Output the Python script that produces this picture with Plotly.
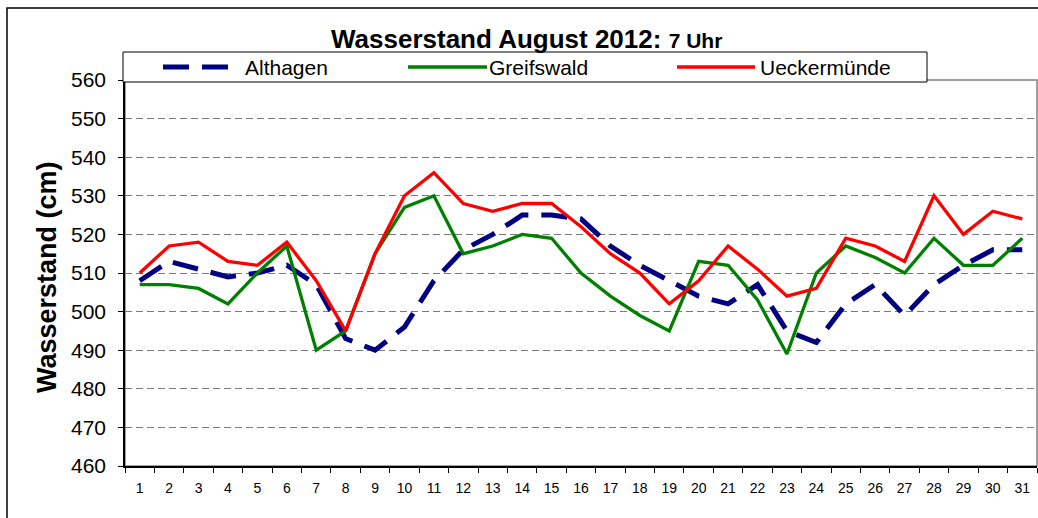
import plotly.graph_objects as go

days = [str(d) for d in range(1, 32)]
althagen = [508, 513, 511, 509, 510, 512, 507, 493, 490, 496, 508, 516, 520, 525, 525,
            524, 517, 512, 508, 504, 502, 507, 495, 492, 502, 507, 499, 507, 512, 516, 516]
greifswald = [507, 507, 506, 502, 510, 517, 490, 495, 515, 527, 530, 515, 517, 520, 519,
              510, 504, 499, 495, 513, 512, 503, 489, 510, 517, 514, 510, 519, 512, 512, 519]
ueckermuende = [510, 517, 518, 513, 512, 518, 508, 495, 515, 530, 536, 528, 526, 528, 528,
                522, 515, 510, 502, 508, 517, 511, 504, 506, 519, 517, 513, 530, 520, 526, 524]
y_ticks = list(range(460, 561, 10))
series_names = ["Althagen", "Greifswald", "Ueckermünde"]
title_main = "Wasserstand August 2012: "
title_sub = "7 Uhr"
y_title = "Wasserstand (cm)"

FONT = "Arial, 'Liberation Sans', sans-serif"
W, H = 1038, 518
L, R, T, B = 125, 1, 80, 52
PW, PH = W - L - R, H - T - B

def px(x):
    return (x - L) / PW

def py(y):
    return (H - B - y) / PH

styles = [
    dict(color="#000080", width=5, dash="26px,13px"),
    dict(color="#008000", width=3.3, dash="solid"),
    dict(color="#FF0000", width=3.3, dash="solid"),
]

fig = go.Figure()
for name, vals, st in zip(series_names, [althagen, greifswald, ueckermuende], styles):
    fig.add_trace(go.Scatter(x=days, y=vals, mode="lines", name=name, line=st,
                             showlegend=False))

shapes = [
    # outer chart frame
    dict(type="rect", xref="paper", yref="paper", x0=px(7), x1=px(1045), y0=py(530), y1=py(8),
         line=dict(color="black", width=1.5), fillcolor="rgba(0,0,0,0)", layer="below"),
    # plot area border (gray)
    dict(type="rect", xref="paper", yref="paper", x0=0, x1=1, y0=0, y1=1,
         line=dict(color="#808080", width=1.5), fillcolor="rgba(0,0,0,0)", layer="below"),
    # legend box
    dict(type="rect", xref="paper", yref="paper", x0=px(123), x1=px(927), y0=py(82), y1=py(52),
         line=dict(color="black", width=1), fillcolor="white", layer="above"),
]
annotations = []
leg_items = [(163, 235, 245), (408, 487, 489), (677, 755, 760)]
for (x0, x1, tx), name, st in zip(leg_items, series_names, styles):
    shapes.append(dict(type="line", xref="paper", yref="paper", x0=px(x0), x1=px(x1),
                       y0=py(67), y1=py(67), line=st, layer="above"))
    annotations.append(dict(text=name, xref="paper", yref="paper", x=px(tx - 2), y=py(67),
                            xanchor="left", yanchor="middle", showarrow=False,
                            font=dict(family=FONT, size=21, color="black")))

annotations.append(dict(
    text="<b>" + title_main + "</b><b><span style='font-size:21px'>" + title_sub + "</span></b>",
    xref="paper", yref="paper", x=px(329), y=py(39), xanchor="left", yanchor="middle",
    showarrow=False, font=dict(family=FONT, size=26, color="black")))
annotations.append(dict(
    text="<b>" + y_title + "</b>", xref="paper", yref="paper", x=px(47), y=py(277),
    xanchor="center", yanchor="middle", textangle=-90, showarrow=False,
    font=dict(family=FONT, size=27, color="black")))

fig.update_layout(
    width=W, height=H,
    margin=dict(l=L, r=R, t=T, b=B, pad=0),
    paper_bgcolor="white", plot_bgcolor="white",
    shapes=shapes, annotations=annotations,
    font=dict(family=FONT, color="black"),
)
fig.update_xaxes(
    type="category", tickson="boundaries", ticks="outside", ticklen=5, tickcolor="black",
    tickwidth=1, showline=True, linecolor="black", linewidth=1.5, showgrid=False,
    tickfont=dict(family=FONT, size=14, color="black"), ticklabelstandoff=8,
    range=[-0.5, 30.5], zeroline=False,
)
fig.update_yaxes(
    range=[460, 560], tickvals=y_ticks, ticks="outside", ticklen=5, tickcolor="black",
    tickwidth=1, showline=True, linecolor="black", linewidth=1.5,
    showgrid=True, gridcolor="#7a7a7a", gridwidth=1, griddash="7px,4px",
    tickfont=dict(family=FONT, size=21, color="black"), ticklabelstandoff=8, zeroline=False,
)

fig.write_html("out.html", config={"displayModeBar": False},
               post_script="document.body.style.margin='0';document.body.style.overflow='hidden';")
